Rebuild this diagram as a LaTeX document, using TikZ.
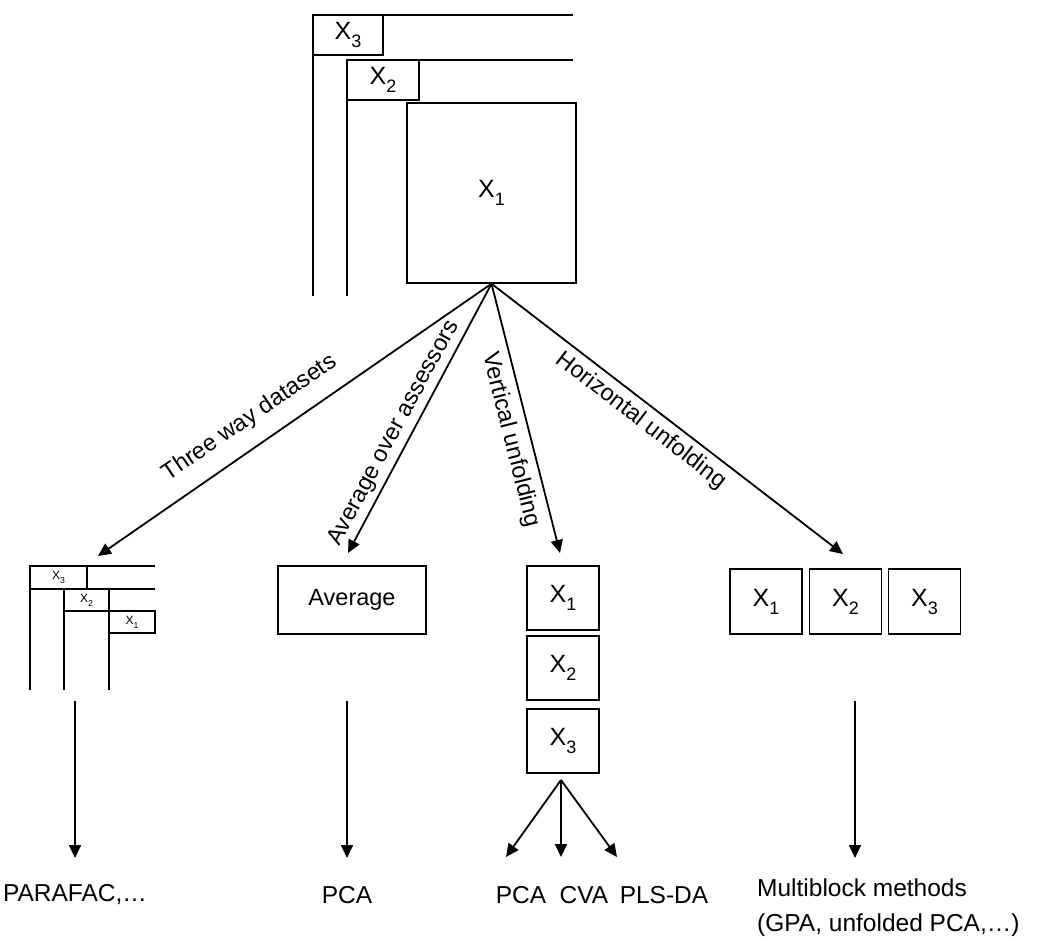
\documentclass[tikz,border=0pt]{standalone}
\usepackage{fontspec}
\setmainfont{Liberation Sans}
\usetikzlibrary{arrows.meta}
\tikzset{
  frame/.style={line width=2pt},
  blk/.style={draw, line width=1.4pt, inner sep=0pt, font=\fontsize{25}{28}\selectfont},
  sblk/.style={draw, line width=1.4pt, inner sep=0pt, font=\fontsize{12}{14}\selectfont},
  arr/.style={line width=1.8pt, -{Triangle[length=13pt,width=12pt]}},
  lbl/.style={font=\fontsize{23.5}{28}\selectfont, inner sep=0pt},
  res/.style={font=\fontsize{24.5}{35}\selectfont, inner sep=0pt}
}
\newcommand{\Xs}[1]{X\raisebox{-0.32em}{\scalebox{0.72}{#1}}}
\begin{document}
\begin{tikzpicture}[x=1pt,y=-1pt]
\useasboundingbox (0,0) rectangle (1060,941);
% ---------- top three-way structure ----------
\draw[frame] (313,296) -- (313,15) -- (573,15);
\draw[frame] (347,296) -- (347,60) -- (573,60);
\node[blk, minimum width=70pt, minimum height=40pt] (X3t) at (348,35) {\Xs{3}};
\node[blk, minimum width=72pt, minimum height=40pt] (X2t) at (383,80) {\Xs{2}};
\node[blk, minimum width=169pt, minimum height=180pt, fill=white] (X1t) at (491.5,193) {\Xs{1}};
% ---------- small three-way structure ----------
\draw[frame] (30,690) -- (30,566) -- (155,566);
\draw[frame] (30,589) -- (155,589);
\draw[frame] (64,690) -- (64,589);
\draw[frame] (64,611) -- (155,611);
\draw[frame] (109,690) -- (109,589);
\node[sblk, minimum width=57pt, minimum height=23pt] (s3) at (58.5,577.5) {\Xs{3}};
\node[sblk, minimum width=45pt, minimum height=22pt] (s2) at (86.5,600) {\Xs{2}};
\node[sblk, minimum width=46pt, minimum height=22pt] (s1) at (132,622) {\Xs{1}};
% ---------- average ----------
\node[blk, minimum width=148pt, minimum height=68pt, font=\fontsize{23.5}{28}\selectfont] (avg) at (352,600) {Average};
% ---------- vertical unfolding ----------
\node[blk, minimum width=72pt, minimum height=64pt] (v1) at (563,598) {\Xs{1}};
\node[blk, minimum width=72pt, minimum height=64pt] (v2) at (563,668) {\Xs{2}};
\node[blk, minimum width=72pt, minimum height=64pt] (v3) at (563,741) {\Xs{3}};
% ---------- horizontal unfolding ----------
\node[blk, minimum width=72pt, minimum height=65pt] (h1) at (766,601.5) {\Xs{1}};
\node[blk, minimum width=72pt, minimum height=65pt] (h2) at (845.5,601.5) {\Xs{2}};
\node[blk, minimum width=72pt, minimum height=65pt] (h3) at (924.5,601.5) {\Xs{3}};
% ---------- arrow ends ----------
\coordinate (tTw) at (98,556);
\coordinate (tAv) at (348,553);
\coordinate (tVe) at (560,553);
\coordinate (tHo) at (843,554);
\draw[arr] (X1t.south) -- (tTw);
\draw[arr] (X1t.south) -- (tAv);
\draw[arr] (X1t.south) -- (tVe);
\draw[arr] (X1t.south) -- (tHo);
\node[lbl, rotate=34.5] (lTw) at (250,418) {Three way datasets};
\node[lbl, rotate=61.7] (lAv) at (394,433) {Average over assessors};
\node[lbl, rotate=-75.8] (lVe) at (511,440) {Vertical unfolding};
\node[lbl, rotate=-37.5] (lHo) at (641,421) {Horizontal unfolding};
% ---------- results ----------
\node[res] (rPar) at (75,895) {PARAFAC,…};
\node[res] (rPca) at (347,895) {PCA};
\node[res] (rPca2) at (521,895) {PCA};
\node[res] (rCva) at (584,895) {CVA};
\node[res] (rPls) at (664,895) {PLS-DA};
\node[res, anchor=north west, align=left] (rMb) at (757,879) {Multiblock methods\\(GPA, unfolded PCA,…)};
\coordinate (sPar) at (75,701);
\coordinate (sPca) at (347,701);
\coordinate (sMb) at (855,701);
\draw[arr] (sPar) -- (75,858);
\draw[arr] (sPca) -- (347,858);
\draw[arr] (sMb) -- (855,858);
\coordinate (sV) at (561,780);
\draw[arr] (sV) -- (506,857);
\draw[arr] (sV) -- (561,857);
\draw[arr] (sV) -- (617,857);
\end{tikzpicture}
\end{document}
